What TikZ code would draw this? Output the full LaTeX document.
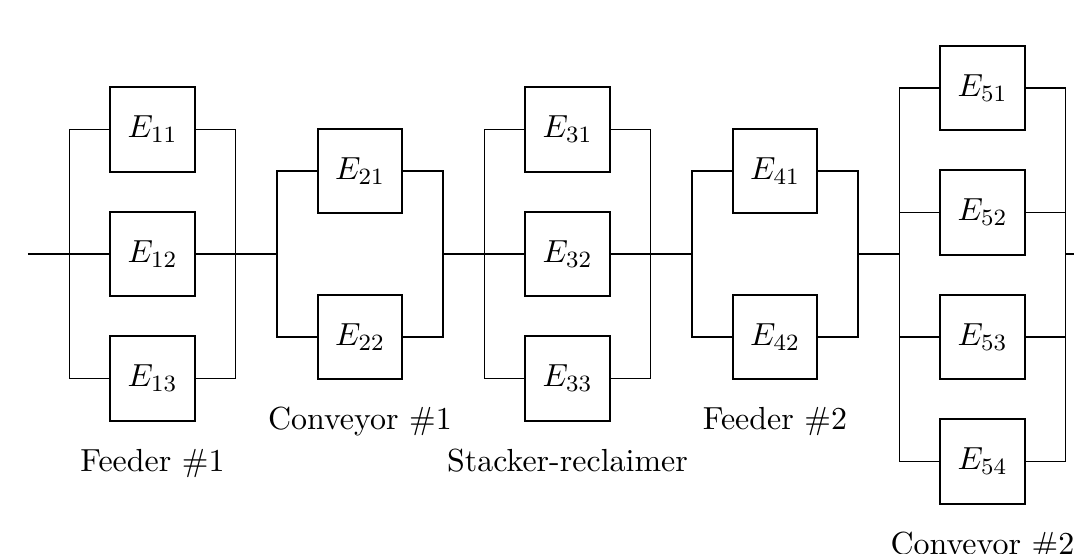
\documentclass[tikz,border=0pt]{standalone}
\usepackage{amsmath}
\usepackage{tikz}
\usetikzlibrary{positioning}

\begin{document}
\begin{tikzpicture}[
    semithick,
    unit/.style={draw, minimum size=1.02cm, inner sep=0pt},
    grouplabel/.style={font=\fontsize{10.95}{13.6}\selectfont},
    font=\fontsize{10.95}{13.6}\selectfont
]
    % Frame of the picture
    \useasboundingbox (-0.337, -3.614) rectangle (12.603, 3.060);
    \clip (-0.337, -3.614) rectangle (12.603, 3.060);

    % === Input and output ===
    \coordinate (input) at (0, 0);
    \coordinate (output) at (13, 0);

    % === Feeder #1 ===
    \begin{scope}[shift={(0, 0)}]
        \coordinate (in1) at (0.5, 0);
        \coordinate (out1) at (2.5, 0);
        \node[unit] (e11) at (1.5, 1.5) {$E_{11}$};
        \node[unit] (e12) at (1.5, 0) {$E_{12}$};
        \node[unit] (e13) at (1.5, -1.5) {$E_{13}$};
        \draw (e11.west) -| (in1) |- (e13.west);
        \draw (e12.west) -- (in1);
        \draw (e11.east) -| (out1) |- (e13.east);
        \draw (e12.east) -- (out1);
        \node[grouplabel, below=0.2cm of e13] (feeder1) {Feeder \#1};
    \end{scope}

    % === Conveyor #1 ===
    \begin{scope}[shift={(2.5, 0)}]
        \coordinate (in2) at (0.5, 0);
        \coordinate (out2) at (2.5, 0);
        \node[unit] (e21) at (1.5, 1) {$E_{21}$};
        \node[unit] (e22) at (1.5, -1) {$E_{22}$};
        \draw (e21.west) -| (in2) |- (e22.west);
        \draw (e21.east) -| (out2) |- (e22.east);
        \node[grouplabel, below=0.2cm of e22] (conveyor1) {Conveyor \#1};
    \end{scope}

    % === Stacker-reclaimer ===
    \begin{scope}[shift={(5, 0)}]
        \coordinate (in3) at (0.5, 0);
        \coordinate (out3) at (2.5, 0);
        \node[unit] (e31) at (1.5, 1.5) {$E_{31}$};
        \node[unit] (e32) at (1.5, 0) {$E_{32}$};
        \node[unit] (e33) at (1.5, -1.5) {$E_{33}$};
        \draw (e31.west) -| (in3) |- (e33.west);
        \draw (e32.west) -- (in3);
        \draw (e31.east) -| (out3) |- (e33.east);
        \draw (e32.east) -- (out3);
        \node[grouplabel, below=0.2cm of e33] (stacker) {Stacker-reclaimer};
    \end{scope}

    % === Feeder #2 ===
    \begin{scope}[shift={(7.5, 0)}]
        \coordinate (in4) at (0.5, 0);
        \coordinate (out4) at (2.5, 0);
        \node[unit] (e41) at (1.5, 1) {$E_{41}$};
        \node[unit] (e42) at (1.5, -1) {$E_{42}$};
        \draw (e41.west) -| (in4) |- (e42.west);
        \draw (e41.east) -| (out4) |- (e42.east);
        \node[grouplabel, below=0.2cm of e42] (feeder2) {Feeder \#2};
    \end{scope}

    % === Conveyor #2 ===
    \begin{scope}[shift={(10, 0)}]
        \coordinate (in5) at (0.5, 0);
        \coordinate (out5) at (2.5, 0);
        \node[unit] (e51) at (1.5, 2) {$E_{51}$};
        \node[unit] (e52) at (1.5, 0.5) {$E_{52}$};
        \node[unit] (e53) at (1.5, -1) {$E_{53}$};
        \node[unit] (e54) at (1.5, -2.5) {$E_{54}$};
        \draw (e51.west) -| (in5) |- (e54.west);
        \draw (e52.west) -- (e52.west -| in5);
        \draw (e53.west) -- (e53.west -| in5);
        \draw (e51.east) -| (out5) |- (e54.east);
        \draw (e52.east) -- (e52.east -| out5);
        \draw (e53.east) -- (e53.east -| out5);
        \node[grouplabel, below=0.2cm of e54] (conveyor2) {Conveyor \#2};
    \end{scope}

    % === Series links ===
    \draw (input) -- (in1);
    \draw (out1) -- (in2);
    \draw (out2) -- (in3);
    \draw (out3) -- (in4);
    \draw (out4) -- (in5);
    \draw (out5) -- (output);

\end{tikzpicture}
\end{document}
